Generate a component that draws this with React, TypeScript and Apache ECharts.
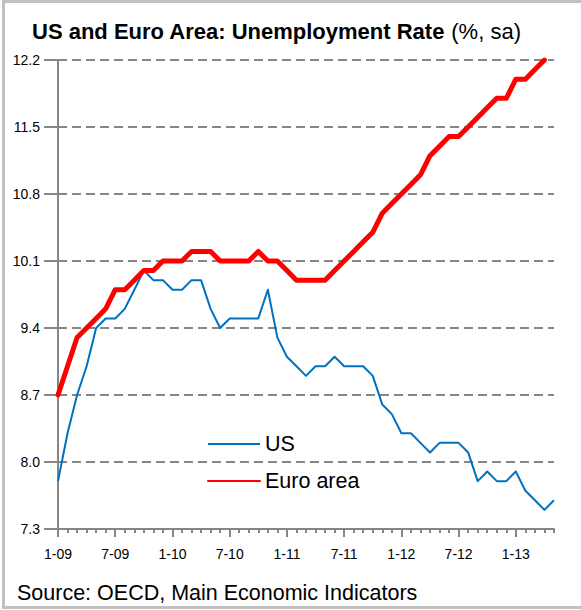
import React, { useEffect, useRef } from "react";
import * as echarts from "echarts";

const FONT = '"Liberation Sans", Arial, Helvetica, sans-serif';

const years = ["09", "10", "11", "12", "13"];
const categories: string[] = [];
years.forEach((y) => {
  for (let m = 1; m <= 12; m++) categories.push(`${m}-${y}`);
});
const monthLabels = categories.slice(0, 53); // Jan-09 .. May-13

const usRate = [
  7.8, 8.3, 8.7, 9.0, 9.4, 9.5, 9.5, 9.6, 9.8, 10.0, 9.9, 9.9,
  9.8, 9.8, 9.9, 9.9, 9.6, 9.4, 9.5, 9.5, 9.5, 9.5, 9.8, 9.3,
  9.1, 9.0, 8.9, 9.0, 9.0, 9.1, 9.0, 9.0, 9.0, 8.9, 8.6, 8.5,
  8.3, 8.3, 8.2, 8.1, 8.2, 8.2, 8.2, 8.1, 7.8, 7.9, 7.8, 7.8,
  7.9, 7.7, 7.6, 7.5, 7.6,
];

const euroRate = [
  8.7, 9.0, 9.3, 9.4, 9.5, 9.6, 9.8, 9.8, 9.9, 10.0, 10.0, 10.1,
  10.1, 10.1, 10.2, 10.2, 10.2, 10.1, 10.1, 10.1, 10.1, 10.2, 10.1, 10.1,
  10.0, 9.9, 9.9, 9.9, 9.9, 10.0, 10.1, 10.2, 10.3, 10.4, 10.6, 10.7,
  10.8, 10.9, 11.0, 11.2, 11.3, 11.4, 11.4, 11.5, 11.6, 11.7, 11.8, 11.8,
  12.0, 12.0, 12.1, 12.2,
];

const yMin = 7.3;
const yMax = 12.2;
const yStep = 0.7;

const titleMain = "US and Euro Area: Unemployment Rate";
const titleUnit = "(%, sa)";
const sourceText = "Source: OECD, Main Economic Indicators";

const GRID_COLOR = "#868686";

export default function App() {
  const ref = useRef<HTMLDivElement>(null);

  useEffect(() => {
    if (!ref.current) return;
    const chart = echarts.init(ref.current, undefined, { renderer: "svg" });
    chart.setOption({
      animation: false,
      backgroundColor: "#ffffff",
      grid: { left: 58, right: 27, top: 60, bottom: 81, containLabel: false },
      legend: {
        orient: "vertical",
        left: 207,
        top: 433,
        padding: 0,
        itemWidth: 52,
        itemHeight: 14,
        itemGap: 15,
        itemStyle: { opacity: 0 },
        textStyle: { fontSize: 21.5, color: "#000", fontFamily: FONT },
        data: ["US", "Euro area"],
      },
      xAxis: [
        {
          type: "category",
          data: monthLabels,
          boundaryGap: false,
          axisLine: { lineStyle: { color: GRID_COLOR, width: 2 } },
          axisTick: { interval: 0, length: 4, lineStyle: { color: GRID_COLOR, width: 2 } },
          axisLabel: { interval: 5, margin: 18, color: "#000", fontSize: 14, fontFamily: FONT },
          splitLine: { show: false },
        },
        {
          type: "category",
          data: monthLabels,
          boundaryGap: false,
          position: "bottom",
          axisLine: { show: false },
          axisTick: { interval: 5, length: 8, lineStyle: { color: GRID_COLOR, width: 2 } },
          axisLabel: { show: false },
          splitLine: { show: false },
        },
      ],
      yAxis: {
        type: "value",
        min: yMin,
        max: yMax,
        interval: yStep,
        axisLine: { show: true, lineStyle: { color: GRID_COLOR, width: 2 } },
        axisTick: { show: true, length: 14, lineStyle: { color: GRID_COLOR, width: 2 } },
        axisLabel: {
          margin: 18,
          color: "#000",
          fontSize: 14,
          fontFamily: FONT,
          formatter: (v: number) => v.toFixed(1),
        },
        splitLine: { show: true, lineStyle: { color: GRID_COLOR, width: 2, type: [9, 5] } },
      },
      series: [
        {
          name: "US",
          type: "line",
          data: usRate,
          symbol: "none",
          color: "#0070c0",
          lineStyle: { color: "#0070c0", width: 2, join: "round" },
        },
        {
          name: "Euro area",
          type: "line",
          data: euroRate,
          symbol: "none",
          color: "#ff0000",
          lineStyle: { color: "#ff0000", width: 5, join: "round", cap: "round" },
        },
      ],
      graphic: [
        {
          type: "rect",
          shape: { x: 3.5, y: 1.5, width: 640, height: 606 },
          style: { fill: "none", stroke: "#c0c0c0", lineWidth: 3 },
          silent: true,
        },
        {
          type: "text",
          left: 32,
          top: 20,
          style: {
            text: `{b|${titleMain}} {n|${titleUnit}}`,
            rich: {
              b: { fontSize: 22, fontWeight: "bold", fontFamily: FONT, fill: "#000" },
              n: { fontSize: 22, fontFamily: FONT, fill: "#000" },
            },
            fontSize: 22,
            fontFamily: FONT,
          },
        },
        {
          type: "text",
          x: 17,
          y: 593,
          style: {
            text: sourceText,
            fontSize: 21.5,
            fontFamily: FONT,
            fill: "#000",
            verticalAlign: "middle",
          },
        },
      ],
    });
    return () => chart.dispose();
  }, []);

  return (
    <div
      ref={ref}
      style={{ position: "fixed", left: 0, top: 0, width: 581, height: 610, background: "#fff" }}
    />
  );
}
